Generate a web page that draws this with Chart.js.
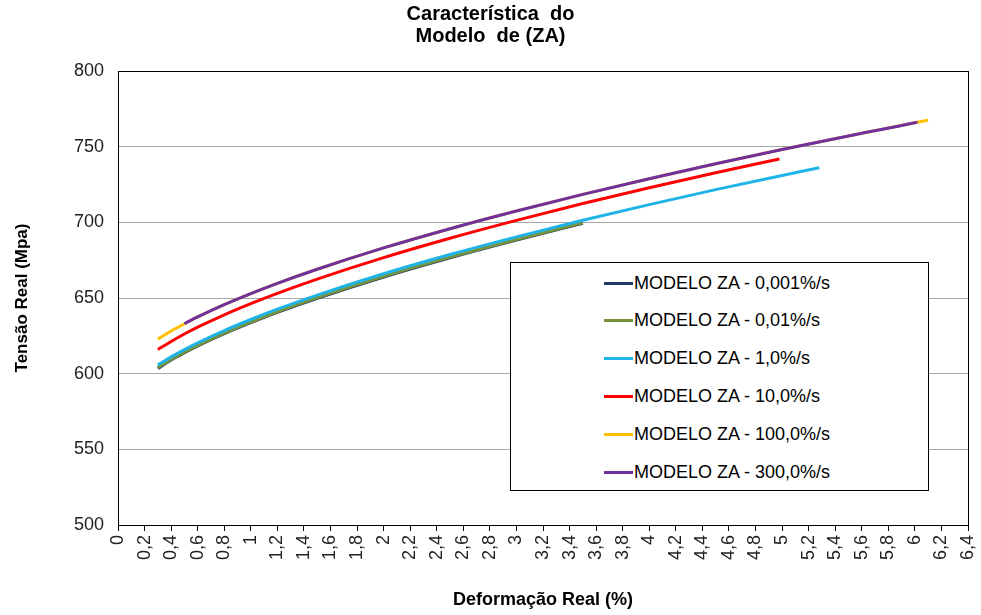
<!DOCTYPE html>
<html>
<head>
<meta charset="utf-8">
<script src="https://cdn.jsdelivr.net/npm/chart.js@4/dist/chart.umd.min.js"></script>
<style>
  html, body { margin: 0; padding: 0; background: #fff; }
  #wrap { position: relative; width: 981px; height: 615px; }
  #legend {
    position: absolute; left: 510px; top: 262px; width: 417px; height: 227px;
    border: 1px solid #000; background: #fff; box-sizing: content-box;
    font-family: 'Liberation Sans', Arial, sans-serif; font-size: 18px; color: #000;
  }
  .row { position: absolute; left: 93px; height: 22px; display: flex; align-items: center; }
  .swatch { width: 29px; height: 3px; margin-right: 1px; }
</style>
</head>
<body>
<div id="wrap">
  <canvas id="chart" width="981" height="615"></canvas>
  <div id="legend"></div>
</div>
<script>
/* ── DATA ─────────────────────────────────────────────────── */
const seriesNames = [
  'MODELO ZA - 0,001%/s',
  'MODELO ZA - 0,01%/s',
  'MODELO ZA - 1,0%/s',
  'MODELO ZA - 10,0%/s',
  'MODELO ZA - 100,0%/s',
  'MODELO ZA - 300,0%/s'
];
const seriesColors = ['#1f3864', '#77933c', '#1fb4e8', '#ff0000', '#ffc000', '#7030a0'];

const strainLow  = [0.3, 0.4, 0.5, 0.6, 0.8, 1.0, 1.2, 1.5, 2.0, 2.5, 3.0, 3.5];
const stress0001 = [603.4, 609.0, 613.8, 618.3, 626.4, 633.7, 640.5, 649.8, 663.9, 676.6, 688.3, 699.3];
const stress001  = [604.0, 609.4, 614.2, 618.7, 626.8, 634.1, 640.9, 650.2, 664.3, 677.0, 688.7, 699.7];

const strain1    = [0.3, 0.4, 0.5, 0.6, 0.8, 1.0, 1.2, 1.5, 2.0, 2.5, 3.0, 3.5, 4.0, 4.5, 5.0, 5.28];
const stress1    = [605.7, 611.1, 615.9, 620.4, 628.5, 635.8, 642.6, 651.9, 666.0, 678.7, 690.4, 701.4, 711.7, 721.6, 731.0, 736.1];

const strain10   = [0.3, 0.4, 0.5, 0.6, 0.8, 1.0, 1.2, 1.5, 2.0, 2.5, 3.0, 3.5, 4.0, 4.5, 4.98];
const stress10   = [616.0, 621.3, 626.2, 630.7, 638.9, 646.3, 653.1, 662.5, 676.7, 689.5, 701.3, 712.4, 722.8, 732.8, 741.9];

const strain100  = [0.3, 0.4, 0.5, 0.6, 0.8, 1.0, 1.2, 1.5, 2.0, 2.5, 3.0, 3.5, 4.0, 4.5, 5.0, 5.5, 6.0, 6.1];
const stress100  = [622.8, 628.2, 633.0, 637.5, 645.6, 652.9, 659.7, 669.0, 683.1, 695.8, 707.5, 718.5, 728.8, 738.7, 748.1, 757.1, 765.8, 767.5];

const strain300  = [0.5, 0.6, 0.8, 1.0, 1.2, 1.5, 2.0, 2.5, 3.0, 3.5, 4.0, 4.5, 5.0, 5.5, 6.0, 6.02];
const stress300  = [633.0, 637.5, 645.6, 652.9, 659.7, 669.0, 683.1, 695.8, 707.5, 718.5, 728.8, 738.7, 748.1, 757.1, 765.8, 766.2];

const seriesX = [strainLow, strainLow, strain1, strain10, strain100, strain300];
const seriesY = [stress0001, stress001, stress1, stress10, stress100, stress300];

const xTicksMin = 0, xTicksMax = 6.4, xTicksStep = 0.2;
const yTicksMin = 500, yTicksMax = 800, yTicksStep = 50;

/* ── CHART ────────────────────────────────────────────────── */
const FONT = "'Liberation Sans', Arial, sans-serif";

const datasets = seriesNames.map((name, i) => ({
  label: name,
  data: seriesX[i].map((x, k) => ({ x, y: seriesY[i][k] })),
  borderColor: seriesColors[i],
  backgroundColor: seriesColors[i],
  borderWidth: 3,
  pointRadius: 0,
  fill: false,
  cubicInterpolationMode: 'monotone',
  order: seriesNames.length - i   // later series drawn on top, like the original
}));

const plotFrame = {
  id: 'plotFrame',
  afterDraw(chart) {
    const { ctx, chartArea: a } = chart;
    ctx.save();
    ctx.strokeStyle = '#000';
    ctx.lineWidth = 1;
    ctx.strokeRect(Math.round(a.left) + 0.5, Math.round(a.top) + 0.5,
      Math.round(a.right - a.left), Math.round(a.bottom - a.top));
    ctx.restore();
  }
};

new Chart(document.getElementById('chart'), {
  type: 'line',
  data: { datasets },
  plugins: [plotFrame],
  options: {
    responsive: false,
    animation: false,
    layout: { padding: { left: 0, right: 0, top: 0, bottom: 0 } },
    plugins: {
      legend: { display: false },
      tooltip: { enabled: false },
      title: {
        display: true,
        text: ['Característica  do', 'Modelo  de (ZA)'],
        color: '#000',
        font: { family: FONT, size: 20, weight: 'bold', lineHeight: 1.1 },
        padding: { top: 3, bottom: 24 }
      }
    },
    scales: {
      x: {
        type: 'linear',
        min: xTicksMin, max: xTicksMax,
        afterFit: s => { s.height = 90; s.paddingRight = 13; },
        grid: { drawOnChartArea: false, drawTicks: true, tickLength: 6, tickColor: '#000' },
        border: { color: '#000', width: 1 },
        ticks: {
          stepSize: xTicksStep,
          autoSkip: false,
          minRotation: 90, maxRotation: 90,
          padding: 4,
          color: '#222',
          font: { family: FONT, size: 18 },
          callback: v => String(Math.round(v * 10) / 10).replace('.', ',')
        },
        title: {
          display: true,
          text: 'Deformação Real (%)',
          color: '#000',
          font: { family: FONT, size: 18, weight: 'bold', lineHeight: 1.2 },
          padding: { top: 0, bottom: 4 }
        }
      },
      y: {
        min: yTicksMin, max: yTicksMax,
        afterFit: s => { s.width = 118; },
        grid: { color: '#a6a6a6', drawTicks: false },
        border: { color: '#000', width: 1 },
        ticks: {
          stepSize: yTicksStep,
          padding: 14,
          color: '#222',
          font: { family: FONT, size: 18 }
        },
        title: {
          display: true,
          text: 'Tensão Real (Mpa)',
          color: '#000',
          font: { family: FONT, size: 17, weight: 'bold', lineHeight: 1.2 },
          padding: { top: 12, bottom: 0 }
        }
      }
    }
  }
});

/* ── LEGEND (boxed, inside plot like the original) ────────── */
const legendEl = document.getElementById('legend');
seriesNames.forEach((name, i) => {
  const row = document.createElement('div');
  row.className = 'row';
  row.style.top = (9 + i * 37.8) + 'px';
  row.innerHTML = '<span class="swatch" style="background:' + seriesColors[i] + '"></span><span>' + name + '</span>';
  legendEl.appendChild(row);
});
</script>
</body>
</html>
